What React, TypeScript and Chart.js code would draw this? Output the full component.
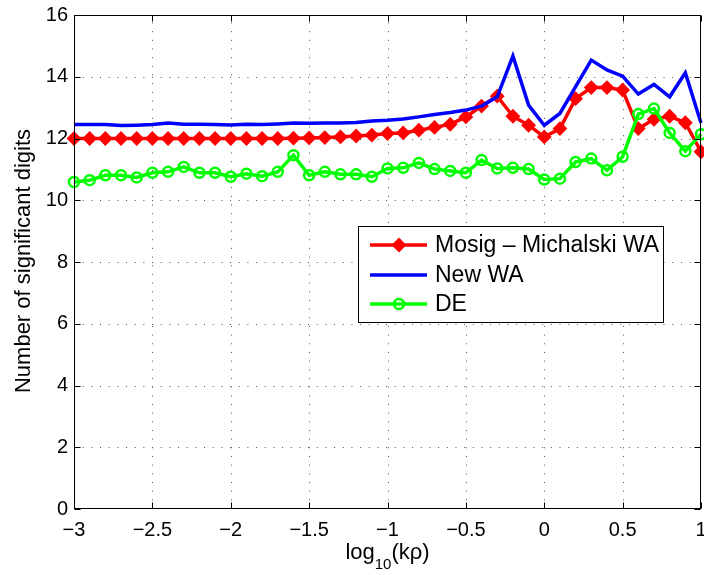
import React, { useEffect, useRef } from 'react';
import { Chart, registerables } from 'chart.js';

Chart.register(...registerables);

const xValues = [
  -3.0, -2.9, -2.8, -2.7, -2.6, -2.5, -2.4, -2.3, -2.2, -2.1,
  -2.0, -1.9, -1.8, -1.7, -1.6, -1.5, -1.4, -1.3, -1.2, -1.1,
  -1.0, -0.9, -0.8, -0.7, -0.6, -0.5, -0.4, -0.3, -0.2, -0.1,
  0.0, 0.1, 0.2, 0.3, 0.4, 0.5, 0.6, 0.7, 0.8, 0.9, 1.0,
];

const mosigMichalskiWA = [
  12.0, 12.0, 12.0, 12.0, 12.0, 12.0, 12.0, 12.0, 12.0, 12.0,
  12.0, 12.0, 12.0, 12.0, 12.01, 12.02, 12.03, 12.05, 12.08, 12.11,
  12.16, 12.18, 12.27, 12.36, 12.46, 12.7, 13.05, 13.37, 12.72, 12.43,
  12.05, 12.32, 13.29, 13.65, 13.65, 13.57, 12.32, 12.62, 12.72, 12.51, 11.57,
];

const newWA = [
  12.45, 12.45, 12.45, 12.42, 12.43, 12.45, 12.5, 12.46, 12.46, 12.45,
  12.44, 12.46, 12.45, 12.47, 12.5, 12.49, 12.5, 12.5, 12.52, 12.57,
  12.59, 12.63, 12.7, 12.78, 12.84, 12.92, 13.05, 13.35, 14.67, 13.08,
  12.43, 12.81, 13.68, 14.54, 14.22, 14.02, 13.44, 13.75, 13.35, 14.13, 12.5,
];

const deValues = [
  10.59, 10.65, 10.81, 10.81, 10.74, 10.89, 10.92, 11.08, 10.89, 10.89,
  10.76, 10.86, 10.78, 10.92, 11.46, 10.81, 10.92, 10.84, 10.84, 10.76,
  11.03, 11.05, 11.21, 11.01, 10.95, 10.89, 11.3, 11.03, 11.05, 11.01,
  10.67, 10.7, 11.24, 11.35, 10.97, 11.41, 12.79, 12.97, 12.18, 11.59, 12.14,
];

const xTicks = [-3, -2.5, -2, -1.5, -1, -0.5, 0, 0.5, 1];
const yTicks = [0, 2, 4, 6, 8, 10, 12, 14, 16];
const seriesLabels = ['Mosig \u2013 Michalski WA', 'New WA', 'DE'];
const yTitle = 'Number of significant digits';

const FONT = '"Liberation Sans", Arial, Helvetica, sans-serif';

function fmt(v: number): string {
  const r = Math.round(v * 10) / 10;
  if (r < 0) return '\u2212' + String(Math.abs(r));
  return String(r);
}

const decorPlugin = {
  id: 'decor',
  beforeDatasetsDraw(chart: any) {
    const { ctx, chartArea: a, scales } = chart;
    const x = scales.x;
    const y = scales.y;
    ctx.save();
    ctx.strokeStyle = '#555';
    ctx.lineWidth = 1;
    ctx.setLineDash([1, 7.67]);
    for (const t of xTicks) {
      const px = Math.round(x.getPixelForValue(t)) + 0.5;
      if (px < a.left + 2 || px > a.right - 2) continue;
      ctx.beginPath();
      ctx.moveTo(px, a.bottom);
      ctx.lineTo(px, a.top);
      ctx.stroke();
    }
    for (const t of yTicks) {
      const py = Math.round(y.getPixelForValue(t)) + 0.5;
      if (py < a.top + 2 || py > a.bottom - 2) continue;
      ctx.beginPath();
      ctx.moveTo(a.left, py);
      ctx.lineTo(a.right, py);
      ctx.stroke();
    }
    ctx.restore();
  },
  afterDatasetsDraw(chart: any) {
    const { ctx, chartArea: a, scales } = chart;
    const x = scales.x;
    const y = scales.y;
    ctx.save();
    // axes box
    ctx.setLineDash([]);
    ctx.strokeStyle = '#000';
    ctx.lineWidth = 1;
    const L = Math.round(a.left) + 0.5;
    const R = Math.round(a.right) - 0.5;
    const T = Math.round(a.top) + 0.5;
    const B = Math.round(a.bottom) - 0.5;
    ctx.strokeRect(L, T, R - L, B - T);
    // inward tick marks
    const tl = 6;
    ctx.beginPath();
    for (const t of xTicks) {
      const px = Math.round(x.getPixelForValue(t)) + 0.5;
      ctx.moveTo(px, B);
      ctx.lineTo(px, B - tl);
      ctx.moveTo(px, T);
      ctx.lineTo(px, T + tl);
    }
    for (const t of yTicks) {
      const py = Math.round(y.getPixelForValue(t)) + 0.5;
      ctx.moveTo(L, py);
      ctx.lineTo(L + tl, py);
      ctx.moveTo(R, py);
      ctx.lineTo(R - tl, py);
    }
    ctx.stroke();

    // legend
    const bx = 358.5, by = 226.5, bw = 305, bh = 96;
    ctx.fillStyle = '#fff';
    ctx.fillRect(bx, by, bw, bh);
    ctx.strokeRect(bx, by, bw, bh);
    const rows = [245, 275, 304];
    const dsets = chart.data.datasets;
    ctx.font = '23px ' + FONT;
    ctx.textBaseline = 'middle';
    ctx.textAlign = 'left';
    for (let i = 0; i < dsets.length; i++) {
      const ds = dsets[i];
      const ry = rows[i];
      ctx.strokeStyle = ds.borderColor;
      ctx.lineWidth = ds.borderWidth;
      ctx.beginPath();
      ctx.moveTo(370, ry);
      ctx.lineTo(427, ry);
      ctx.stroke();
      if (ds.pointRadius > 0) {
        ctx.fillStyle = ds.pointBackgroundColor;
        ctx.strokeStyle = ds.pointBorderColor;
        ctx.lineWidth = ds.pointBorderWidth;
        ctx.beginPath();
        const r = ds.pointRadius;
        if (ds.pointStyle === 'rectRot') {
          ctx.moveTo(399 - r, ry);
          ctx.lineTo(399, ry - r);
          ctx.lineTo(399 + r, ry);
          ctx.lineTo(399, ry + r);
          ctx.closePath();
        } else {
          ctx.arc(399, ry, r, 0, Math.PI * 2);
        }
        ctx.fill();
        ctx.stroke();
      }
      ctx.fillStyle = '#000';
      ctx.fillText(ds.label, 435, ry + 1);
    }

    // y title
    ctx.fillStyle = '#000';
    ctx.font = '22px ' + FONT;
    ctx.textAlign = 'center';
    ctx.textBaseline = 'alphabetic';
    ctx.save();
    ctx.translate(29.5, 261);
    ctx.rotate(-Math.PI / 2);
    ctx.fillText(yTitle, 0, 0);
    ctx.restore();

    // x title: log_10(kρ)
    const big = '22px ' + FONT;
    const small = '15px ' + FONT;
    ctx.textAlign = 'left';
    ctx.font = big;
    const w1 = ctx.measureText('log').width;
    const w3 = ctx.measureText('(k\u03c1)').width;
    ctx.font = small;
    const w2 = ctx.measureText('10').width;
    const cx = x.getPixelForValue(-1);
    let sx = cx - (w1 + w2 + w3) / 2;
    ctx.font = big;
    ctx.fillText('log', sx, 559);
    sx += w1;
    ctx.font = small;
    ctx.fillText('10', sx, 569);
    sx += w2;
    ctx.font = big;
    ctx.fillText('(k\u03c1)', sx, 559);
    ctx.restore();
  },
};

export default function App() {
  const canvasRef = useRef<HTMLCanvasElement | null>(null);

  useEffect(() => {
    const canvas = canvasRef.current;
    if (!canvas) return;
    const mk = (ys: number[]) => xValues.map((xv, i) => ({ x: xv, y: ys[i] }));
    const chart = new Chart(canvas, {
      type: 'line',
      data: {
        datasets: [
          {
            label: seriesLabels[0],
            data: mk(mosigMichalskiWA),
            borderColor: '#ff0000',
            backgroundColor: '#ff0000',
            borderWidth: 3.5,
            pointStyle: 'rectRot',
            pointRadius: 6,
            pointBorderWidth: 2,
            pointBackgroundColor: '#ff0000',
            pointBorderColor: '#ff0000',
            tension: 0,
            clip: false as any,
            order: 3,
          },
          {
            label: seriesLabels[1],
            data: mk(newWA),
            borderColor: '#0000ff',
            backgroundColor: '#0000ff',
            borderWidth: 3.5,
            pointRadius: 0,
            tension: 0,
            clip: false as any,
            order: 2,
          },
          {
            label: seriesLabels[2],
            data: mk(deValues),
            borderColor: '#00ff00',
            backgroundColor: '#00ff00',
            borderWidth: 3.5,
            pointStyle: 'circle',
            pointRadius: 5,
            pointBorderWidth: 2.5,
            pointBackgroundColor: 'rgba(0,0,0,0)',
            pointBorderColor: '#00ff00',
            tension: 0,
            clip: false as any,
            order: 1,
          },
        ],
      },
      options: {
        responsive: false,
        animation: false,
        devicePixelRatio: 1,
        layout: { autoPadding: false, padding: { top: 15, right: 3, left: 0, bottom: 0 } },
        plugins: {
          legend: { display: false },
          tooltip: { enabled: false },
        },
        scales: {
          x: {
            type: 'linear',
            min: -3,
            max: 1,
            afterBuildTicks: (scale: any) => {
              scale.ticks = xTicks.map((v) => ({ value: v }));
            },
            afterFit: (scale: any) => {
              scale.height = 66;
              scale.paddingLeft = 0;
              scale.paddingRight = 0;
            },
            grid: { display: false, drawTicks: false },
            border: { display: false },
            ticks: {
              padding: 9,
              color: '#000',
              font: { family: FONT, size: 20 },
              maxRotation: 0,
              autoSkip: false,
              callback: (v: any) => fmt(Number(v)),
            },
          },
          y: {
            type: 'linear',
            min: 0,
            max: 16,
            afterBuildTicks: (scale: any) => {
              scale.ticks = yTicks.map((v) => ({ value: v }));
            },
            afterFit: (scale: any) => {
              scale.width = 74;
              scale.paddingTop = 0;
              scale.paddingBottom = 0;
            },
            grid: { display: false, drawTicks: false },
            border: { display: false },
            ticks: {
              padding: 6,
              color: '#000',
              font: { family: FONT, size: 20 },
              autoSkip: false,
              callback: (v: any) => fmt(Number(v)),
            },
          },
        },
      },
      plugins: [decorPlugin],
    });
    return () => chart.destroy();
  }, []);

  return (
    <div style={{ position: 'absolute', left: 0, top: 0, width: 704, height: 575, background: '#fff' }}>
      <canvas ref={canvasRef} width={704} height={575} />
    </div>
  );
}
